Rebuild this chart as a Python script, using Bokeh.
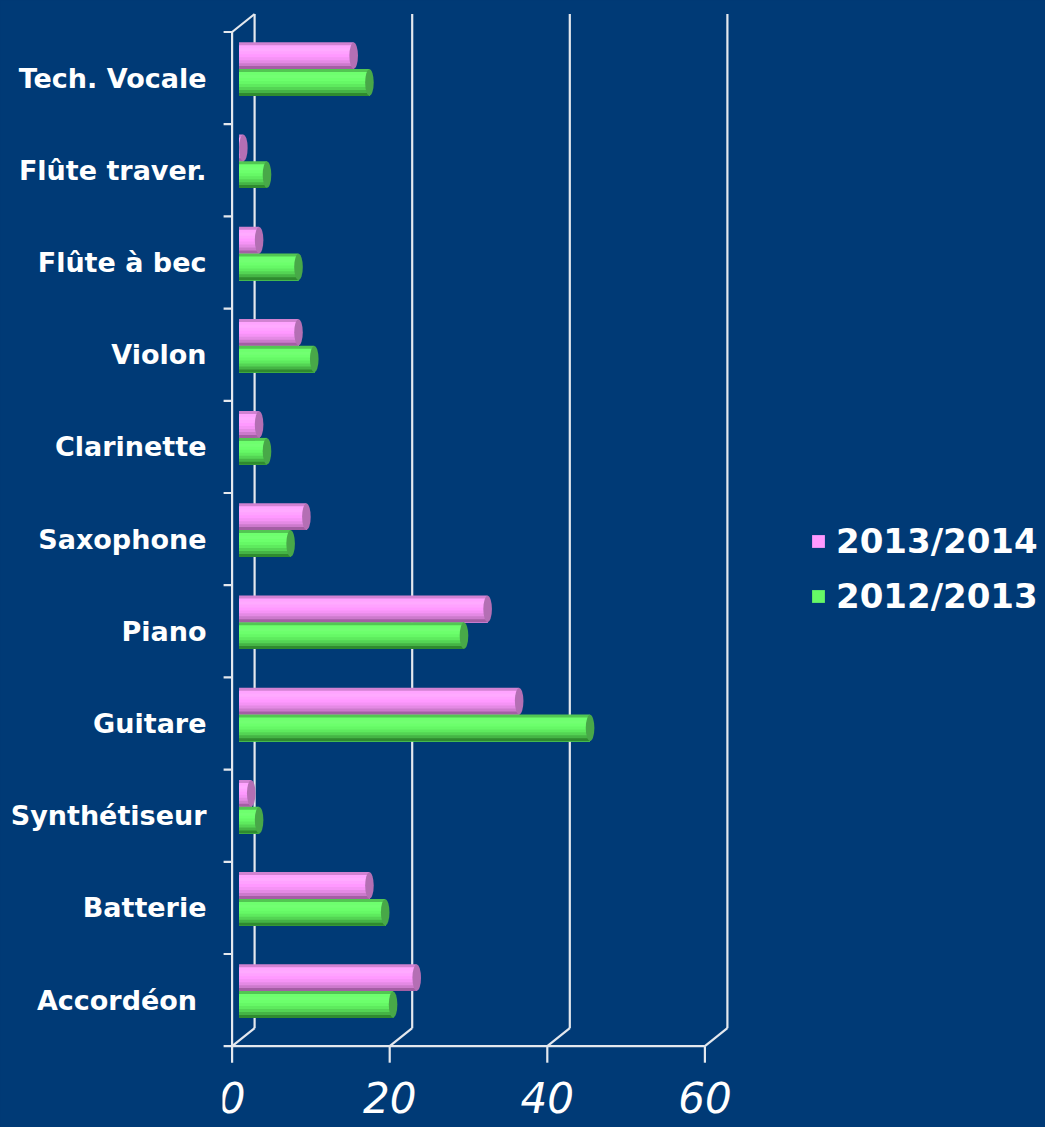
from bokeh.plotting import figure
from bokeh.models import FixedTicker, Legend, LegendItem
from bokeh.core.properties import value
from bokeh.embed import file_html
from bokeh.resources import INLINE

# ---------------- data ----------------
categories = ["Accordéon\u00a0", "Batterie", "Synthétiseur", "Guitare", "Piano",
              "Saxophone", "Clarinette", "Violon", "Flûte à bec", "Flûte traver.",
              "Tech. Vocale"]
series_names = ["2013/2014", "2012/2013"]
values_2013_2014 = [22, 16, 1, 35, 31, 8, 2, 7, 2, 0, 14]
values_2012_2013 = [19, 18, 2, 44, 28, 6, 3, 9, 7, 3, 16]
x_ticks = [0, 20, 40, 60]
x_tick_labels = ["0", "20", "40", "60"]

# ---------------- styling / geometry ----------------
BG = "#003a76"
WIRE = "#e4e8ee"
W, H = 1045, 1127
ML, MT = 222, 10
FRONT_BOTTOM = 1045.7        # px of the front floor edge
SX = 7.88     # px per value unit
SY = 92.2     # px per category band
x0 = -(231.6 - ML) / SX
DX = 22.5 / SX          # depth offset (x, data units)
DY = 18.0 / SY          # depth offset (y, data units)
BAR_H = 26.8 / SY
CAP_W = 8.6 / SX

n = len(categories)
ybot, ytop = -0.5, n - 0.5
y_start = ybot - (H - FRONT_BOTTOM) / SY
y_end = y_start + (H - MT) / SY

p = figure(width=W, height=H,
           x_range=(x0, x0 + (W - ML) / SX),
           y_range=(y_start, y_end),
           x_axis_location=None,
           output_backend="svg", toolbar_location=None,
           min_border_left=ML, min_border_right=0,
           min_border_top=MT, min_border_bottom=0)
p.background_fill_color = BG
p.border_fill_color = BG
p.outline_line_color = None
p.xgrid.visible = False
p.ygrid.visible = False

# ---------------- 3D wireframe ----------------
sx0, sy0, sx1, sy1 = [], [], [], []
def seg(a, b, c, d):
    sx0.append(a); sy0.append(b); sx1.append(c); sy1.append(d)

seg(0, ybot, 0, ytop)                       # front left wall edge
for k in range(n + 1):                      # category ticks
    seg(-8.5 / SX, ybot + k, 0, ybot + k)
seg(0, ybot, x_ticks[-1], ybot)             # front floor edge
seg(0, ytop, DX, ytop + DY)                 # top-left depth edge
for xt in x_ticks:
    seg(xt, ybot, xt, ybot - 16.5 / SY)     # value ticks
    seg(xt, ybot, xt + DX, ybot + DY)       # floor depth edges
    seg(xt + DX, ybot + DY, xt + DX, ytop + DY)  # back wall gridlines
p.segment(sx0, sy0, sx1, sy1, line_color=WIRE, line_width=2.2)

# value tick labels
p.text(x=x_ticks, y=[ybot - 36.0 / SY] * len(x_ticks), text=x_tick_labels,
       text_align="center", text_baseline="top",
       text_font=value("DejaVu Sans"), text_font_style="italic",
       text_font_size="42px", text_color="white")

# ---------------- cylinders ----------------
pink_grad = ["#d282d2", "#ffa4ff", "#ffaaff", "#ffa2ff", "#ff99ff", "#f593f5",
             "#e48ae4", "#cc7acc", "#a45ea4"]
green_grad = ["#52c652", "#6eff6e", "#72ff72", "#6cff6c", "#66f866", "#5eea5e",
              "#54d454", "#45b445", "#2f8a2f"]
series = [
    (values_2013_2014, +BAR_H / 2, pink_grad, "#b46fb4"),
    (values_2012_2013, -BAR_H / 2, green_grad, "#48a848"),
]
ycat = list(range(n))
mid = DX / 2
legend_items = []
for (vals, off, grad, cap), name in zip(series, series_names):
    yc = [y + DY / 2 + off for y in ycat]
    right = [v + mid for v in vals]
    left = [mid - CAP_W / 2 for _ in vals]
    ns = len(grad)
    sh = BAR_H / ns
    main_r = None
    for k, col in enumerate(grad):
        # each layer spans from its own top down to the bar bottom (no seams)
        top_off = BAR_H / 2 - k * sh
        hh = BAR_H - k * sh
        ys = [y + top_off - hh / 2 for y in yc]
        r = p.hbar(y=ys, left=left, right=right, height=hh,
                   fill_color=col, line_color=None)
        if k == 4:
            main_r = r
    p.ellipse(x=right, y=yc, width=CAP_W, height=BAR_H * 0.98,
              fill_color=cap, line_color=None)
    legend_items.append(LegendItem(label=name, renderers=[main_r]))

# ---------------- category axis ----------------
ya = p.yaxis[0]
ya.ticker = FixedTicker(ticks=ycat)
ya.major_label_overrides = {i: c for i, c in zip(ycat, categories)}
ya.axis_line_color = None
ya.major_tick_line_color = None
ya.minor_tick_line_color = None
ya.major_tick_out = 0
ya.major_tick_in = 0
ya.major_label_standoff = 16
ya.major_label_text_font = "DejaVu Sans"
ya.major_label_text_font_style = "bold"
ya.major_label_text_font_size = "27px"
ya.major_label_text_color = "white"

# ---------------- legend ----------------
legend = Legend(items=legend_items, location=(588, 511),
                glyph_width=16, glyph_height=16,
                label_text_font="DejaVu Sans", label_text_font_style="bold",
                label_text_font_size="34px", label_text_color="white",
                label_standoff=10, spacing=15, padding=0, margin=0,
                background_fill_alpha=0, border_line_color=None)
p.add_layout(legend)

html = file_html(p, INLINE)
html = html.replace("</head>",
                    "<style>html,body{background-color:#003a76;}</style></head>", 1)
open("out.html", "w").write(html)
